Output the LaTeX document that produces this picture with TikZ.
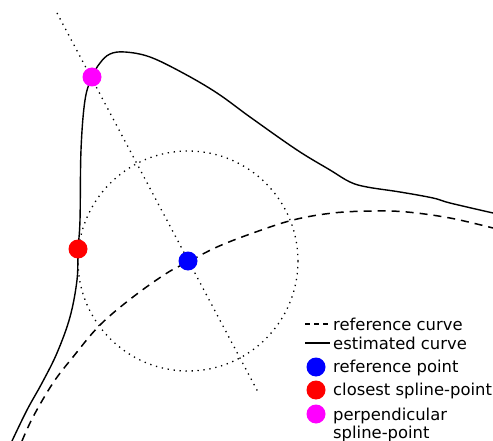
\documentclass[tikz,border=0pt]{standalone}
\usepackage{fontspec}
\setmainfont{DejaVu Sans}
\definecolor{ptblue}{RGB}{0,0,255}
\definecolor{ptred}{RGB}{255,0,0}
\definecolor{ptmagenta}{RGB}{255,0,255}
\begin{document}
\begin{tikzpicture}[x=1pt,y=-1pt,
    spot/.style={circle,fill,inner sep=0pt,minimum size=19pt},
    dots/.style={line width=1.3pt,dash pattern=on 1.3pt off 4.7pt},
    refline/.style={line width=1.5pt,dash pattern=on 8pt off 6pt},
    estline/.style={line width=1.4pt},
    legtext/.style={anchor=base west,inner sep=0pt,font=\fontsize{16.4}{19}\selectfont}]

\useasboundingbox (0,0) rectangle (493,441);

% ===== Curves =====
\draw[estline] plot[smooth,tension=0.6] coordinates {
    (12,441) (27,410) (42,383) (57,353) (70,317) (77,280) (78,250)
    (80,220) (81,150) (85,100) (92,77) (100,63) (110,54) (125,52)
    (150,57) (183,73) (217,93) (250,117) (297,150) (330,170) (350,182)
    (367,187) (400,192) (433,198) (450,203) (493,213)};

\draw[refline] plot[smooth,tension=0.6] coordinates {
    (22,441) (33,417) (53,383) (73,357) (100,325) (133,297) (167,273)
    (188,262) (217,247) (253,233) (293,220) (333,213) (373,211)
    (407,212) (450,218) (493,228)};

% ===== Search circle and normal =====
\coordinate (lnA) at (57,13);
\coordinate (lnB) at (258,392);
\draw[dots] (188,261) circle (110);
\draw[dots] (lnA) -- (lnB);

% ===== Points =====
\node[spot,ptblue] (refpt) at (188,261) {};
\node[spot,ptred] (closept) at (78,249) {};
\node[spot,ptmagenta] (perppt) at (92,77) {};

% ===== Legend =====
\coordinate (lgA) at (305,324);
\coordinate (lgB) at (330,324);
\draw[line width=1.3pt,dash pattern=on 5pt off 4pt] (lgA) -- (lgB);
\coordinate (lgC) at (305,343);
\coordinate (lgD) at (330,343);
\draw[line width=1.3pt] (lgC) -- (lgD);
\node[spot,ptblue] (lgblue) at (316,367) {};
\node[spot,ptred] (lgred) at (316,390) {};
\node[spot,ptmagenta] (lgmag) at (316,414) {};

\node[legtext] (txref) at (333,330) {reference curve};
\node[legtext] (txest) at (333,349) {estimated curve};
\node[legtext] (txpt) at (333,372) {reference point};
\node[legtext] (txclose) at (333,395) {closest spline-point};
\node[legtext] (txperp) at (333,420) {perpendicular};
\node[legtext] (txspl) at (333,438) {spline-point};

\end{tikzpicture}
\end{document}
